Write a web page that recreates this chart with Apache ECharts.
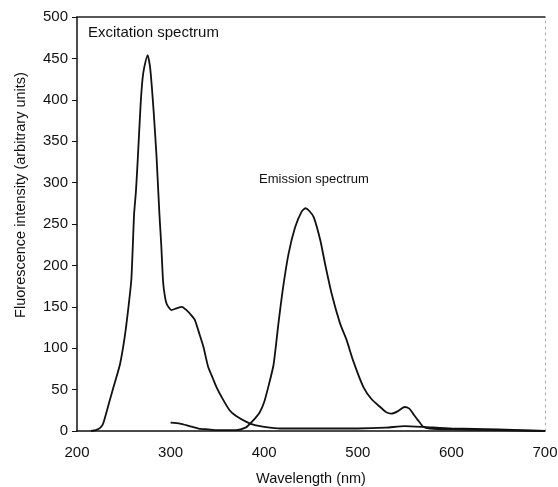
<!DOCTYPE html>
<html>
<head>
<meta charset="utf-8">
<script src="https://cdn.jsdelivr.net/npm/echarts@6/dist/echarts.min.js"></script>
<style>
  html, body { margin: 0; padding: 0; background: #fff; }
  #chart { width: 558px; height: 487px; }
</style>
</head>
<body>
<div id="chart"></div>
<script>
// wavelength (nm) / intensity pairs
const excitationX = [215, 220, 225, 228, 235, 239, 246, 251, 255, 258, 259.5, 261, 263, 265, 268, 270, 272, 275.5, 278, 280, 282, 285, 288, 290, 292, 294, 296, 301, 306, 312, 317, 322, 326, 330, 335, 340, 345, 349, 355, 363, 370, 381, 390, 400, 417, 450, 500, 530, 550, 570, 600, 650, 700];
const excitationY = [0, 1, 4, 9, 37, 53, 81, 114, 150, 182, 220, 262, 290, 330, 395, 425, 440, 454, 440, 415, 384, 331, 263, 225, 180, 162, 153, 146, 148, 150, 146, 140, 134, 120, 102, 78, 64, 53, 40, 25, 18, 11, 7, 5, 3, 3, 3, 4, 6, 5, 3, 2, 0];

const emissionX = [300, 310, 320, 330, 340, 350, 360, 370, 380, 385, 390, 395, 400, 405, 410, 415, 420, 426, 433, 440, 444, 448, 453, 460, 465, 472, 481, 488, 495, 506, 515, 524, 530, 536, 543, 550, 555, 559, 565, 570, 577, 600, 650, 700];
const emissionY = [10, 9, 6, 3, 2, 1, 1, 1, 4, 9, 15, 22, 35, 56, 80, 128, 172, 214, 246, 265, 269, 266, 258, 230, 202, 166, 130, 110, 85, 53, 38, 29, 23, 21, 24, 29, 27, 21, 12, 5, 3, 2, 1, 0];

const xTicks = [200, 300, 400, 500, 600, 700];
const yTicks = [0, 50, 100, 150, 200, 250, 300, 350, 400, 450, 500];

const FONT = '"Liberation Sans", Arial, sans-serif';

function pairs(xs, ys) {
  return xs.map((x, i) => [x, ys[i]]);
}

const chart = echarts.init(document.getElementById('chart'));

chart.setOption({
  animation: false,
  backgroundColor: '#fff',
  grid: { left: 77, right: 13, top: 17, bottom: 56, outerBoundsMode: 'none' },
  xAxis: [
    {
      type: 'value',
      min: xTicks[0],
      max: xTicks[xTicks.length - 1],
      interval: 100,
      name: 'Wavelength (nm)',
      nameLocation: 'middle',
      nameGap: 40,
      nameTextStyle: { fontFamily: FONT, fontSize: 14.5, color: '#111' },
      axisLine: { show: true, onZero: false, lineStyle: { color: '#111', width: 1.5 } },
      axisTick: { show: false },
      axisLabel: { fontFamily: FONT, fontSize: 15, color: '#111', margin: 14 },
      splitLine: { show: false }
    },
    {
      // top frame edge
      type: 'value',
      position: 'top',
      min: xTicks[0],
      max: xTicks[xTicks.length - 1],
      axisLine: { show: true, onZero: false, lineStyle: { color: '#222', width: 1.5 } },
      axisTick: { show: false },
      axisLabel: { show: false },
      splitLine: { show: false }
    }
  ],
  yAxis: [
    {
      type: 'value',
      min: yTicks[0],
      max: yTicks[yTicks.length - 1],
      interval: 50,
      axisLine: { show: true, onZero: false, lineStyle: { color: '#111', width: 1.5 } },
      axisTick: { show: true, inside: false, length: 5, lineStyle: { color: '#111', width: 1 } },
      axisLabel: { fontFamily: FONT, fontSize: 15, color: '#111', margin: 9 },
      splitLine: { show: false }
    },
    {
      // faint dotted right edge
      type: 'value',
      position: 'right',
      min: yTicks[0],
      max: yTicks[yTicks.length - 1],
      axisLine: { show: true, onZero: false, lineStyle: { color: '#aaa', width: 1, type: [2, 4] } },
      axisTick: { show: false },
      axisLabel: { show: false },
      splitLine: { show: false }
    }
  ],
  graphic: [
    {
      type: 'text',
      x: 21,
      y: 195,
      rotation: Math.PI / 2,
      style: {
        text: 'Fluorescence intensity (arbitrary units)',
        fontFamily: FONT, fontSize: 14.5, fill: '#111',
        align: 'center', verticalAlign: 'middle'
      }
    },
    {
      type: 'text',
      left: 88,
      top: 25,
      style: { text: 'Excitation spectrum', fontFamily: FONT, fontSize: 15, fill: '#111' }
    },
    {
      type: 'text',
      left: 259,
      top: 173,
      style: { text: 'Emission spectrum', fontFamily: FONT, fontSize: 13, fill: '#111' }
    }
  ],
  series: [
    {
      name: 'Excitation',
      type: 'line',
      data: pairs(excitationX, excitationY),
      showSymbol: false,
      smooth: 0.2,
      lineStyle: { color: '#111', width: 1.8 }
    },
    {
      name: 'Emission',
      type: 'line',
      data: pairs(emissionX, emissionY),
      showSymbol: false,
      smooth: 0.2,
      lineStyle: { color: '#111', width: 1.8 }
    }
  ]
});
</script>
</body>
</html>
